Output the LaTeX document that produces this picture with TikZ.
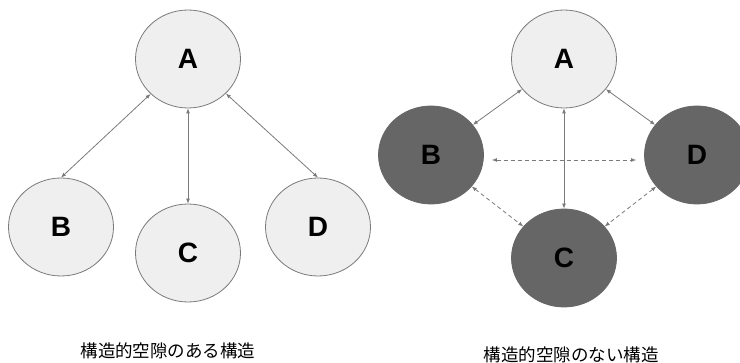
\documentclass[tikz,border=0pt]{standalone}
\usepackage{fontspec}
\setsansfont{Liberation Sans}
\newfontfamily\jpfont{Noto Sans CJK JP}
\usetikzlibrary{shapes.geometric,arrows.meta}
\definecolor{lightnode}{HTML}{EFEFEF}
\definecolor{darknode}{HTML}{666666}
\definecolor{edgegray}{HTML}{7A7A7A}
\begin{document}
\begin{tikzpicture}[x=1pt,y=-1pt,
  actor/.style={ellipse,draw=edgegray,line width=0.8pt,minimum width=105pt,minimum height=98pt,inner sep=0pt,font=\sffamily\bfseries\fontsize{28}{28}\selectfont},
  light/.style={actor,fill=lightnode},
  dark/.style={actor,fill=darknode,draw=darknode},
  tie/.style={draw=edgegray,line width=0.8pt,{Latex[length=5pt,width=4pt]}-{Latex[length=5pt,width=4pt]}},
  weak/.style={tie,dash pattern=on 4pt off 3pt},
  caption/.style={font=\jpfont\fontsize{17.5}{17.5}\selectfont}]
  \useasboundingbox (0,0) rectangle (740,363);
  % with structural holes
  \node[light] (lA) at (188,59) {A};
  \node[light] (lB) at (61,227) {B};
  \node[light] (lC) at (188,253) {C};
  \node[light] (lD) at (318,227) {D};
  \draw[tie] (lA) -- (lB.north);
  \draw[tie] (lA) -- (lC);
  \draw[tie] (lA) -- (lD.north);
  \node[caption] (lcap) at (168,351) {構造的空隙のある構造};
  % without structural holes
  \node[light] (rA) at (564,59) {A};
  \node[dark] (rB) at (431,155) {B};
  \node[dark] (rC) at (564,258) {C};
  \node[dark] (rD) at (697,155) {D};
  \draw[tie] (rA) -- (rB);
  \draw[tie] (rA) -- (rC);
  \draw[tie] (rA) -- (rD);
  \draw[weak,shorten <=8pt,shorten >=8pt] ([yshift=-5pt]rB.east) -- ([yshift=-5pt]rD.west);
  \draw[weak] (rB) -- (rC);
  \draw[weak] (rD) -- (rC);
  \node[caption] (rcap) at (571,355) {構造的空隙のない構造};
\end{tikzpicture}
\end{document}
